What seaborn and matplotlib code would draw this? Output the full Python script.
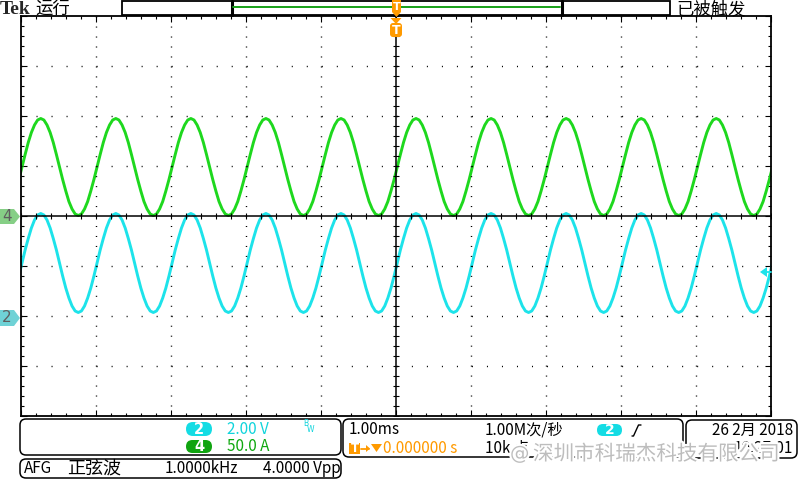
import numpy as np
import pandas as pd
import matplotlib
matplotlib.use("Agg")
import matplotlib.pyplot as plt
import matplotlib.patches as mpatches
import matplotlib.patheffects as pe
import seaborn as sns

# --- trace data (divisions), one cycle each, starting at the peak, 24 samples per 1.00 ms ---
green_cycle = [1.95, 1.92, 1.82, 1.67, 1.47, 1.23, 0.98, 0.73, 0.50, 0.29, 0.14, 0.04,
               0.01, 0.04, 0.14, 0.29, 0.50, 0.73, 0.98, 1.23, 1.47, 1.67, 1.82, 1.92]
cyan_cycle = [0.05, 0.02, -0.08, -0.24, -0.45, -0.68, -0.94, -1.20, -1.44, -1.64, -1.80, -1.90,
              -1.93, -1.90, -1.80, -1.64, -1.44, -1.20, -0.94, -0.68, -0.45, -0.24, -0.08, 0.02]
n_cycles = 12
first_peak = -5.73          # ms (= div), position of first drawn peak
samples_per_cycle = 24

ch4_ground = 0.0            # divisions
ch2_ground = -2.0
ch2_trig_level = -1.12

# --- text on screen ---
brand = "Tek"
run_state = "运行"
trig_state = "已被触发"
ch2_scale = "2.00 V"
ch4_scale = "50.0 A"
afg_items = ["AFG", "正弦波", "1.0000kHz", "4.0000 Vpp"]
timebase = "1.00ms"
sample_rate = "1.00M次/秒"
trig_pos = "0.000000 s"
rec_len = "10k 点"
date_str = "26 2月 2018"
time_str = "10:27:01"
watermark = "深圳市科瑞杰科技有限公司"

GREEN = "#1ed81e"
CYAN = "#1de3ea"
ORANGE = "#ff9a00"

sns.set_style("white")
plt.rcParams["font.family"] = ["Noto Sans CJK SC", "DejaVu Sans"]
plt.rcParams["lines.scale_dashes"] = False

fig = plt.figure(figsize=(8, 4.8), dpi=100)
fig.patch.set_facecolor("white")

# graticule axes, pixel box 20.5..771 x 16..416
ax = fig.add_axes([20.5 / 800, 1 - 416 / 480, 750.5 / 800, 400 / 480])
ax.set_xlim(-5, 5)
ax.set_ylim(-4, 4)
for s in ax.spines.values():
    s.set_color("black")
    s.set_linewidth(1.3)

# traces
t = first_peak + np.arange(n_cycles * samples_per_cycle) / samples_per_cycle
n = len(t)
df = pd.DataFrame({
    "t": np.concatenate([t, t]),
    "v": np.concatenate([np.tile(green_cycle, n_cycles) + ch4_ground,
                         np.tile(cyan_cycle, n_cycles)]),
    "ch": ["4"] * n + ["2"] * n,
})
sns.lineplot(data=df, x="t", y="v", hue="ch", palette={"4": GREEN, "2": CYAN},
             estimator=None, sort=False, legend=False, linewidth=2.1, ax=ax)
ax.set_xlabel("")
ax.set_ylabel("")

# dotted graticule
for xv in range(-4, 5):
    if xv != 0:
        ax.axvline(xv, color="black", lw=1.0, linestyle=(0, (0.75, 6.43)), zorder=3)
for yv in range(-3, 4):
    if yv != 0:
        ax.axhline(yv, color="black", lw=1.0, linestyle=(0, (0.75, 10.06)), zorder=3)
ax.axvline(0, color="black", lw=1.1, zorder=3)
ax.axhline(0, color="black", lw=1.1, zorder=3)
minor_x = np.arange(-5, 5.01, 0.2)
minor_y = np.arange(-4, 4.01, 0.2)
ax.plot(minor_x, np.zeros_like(minor_x), ls="none", marker="|", ms=4.5, mew=0.8, color="black", zorder=3)
ax.plot(np.zeros_like(minor_y), minor_y, ls="none", marker="_", ms=4.5, mew=0.8, color="black", zorder=3)

ax.set_xticks(np.arange(-5, 5.01, 1))
ax.set_yticks(np.arange(-4, 4.01, 1))
ax.set_xticks(minor_x, minor=True)
ax.set_yticks(minor_y, minor=True)
ax.tick_params(which="both", direction="in", top=True, right=True, bottom=True, left=True,
               labelbottom=False, labelleft=False, color="black", width=0.8)
ax.tick_params(which="major", length=4)
ax.tick_params(which="minor", length=2.2)

# overlay in pixel coordinates
ov = fig.add_axes([0, 0, 1, 1], zorder=5)
ov.set_xlim(0, 800)
ov.set_ylim(480, 0)
ov.axis("off")
ov.patch.set_alpha(0)


def rbox(x0, y0, x1, y1, r=6, fc="none", ec="black", lw=1.1, z=2):
    ov.add_patch(mpatches.FancyBboxPatch((x0, y0), x1 - x0, y1 - y0,
                                         boxstyle=f"round,pad=0,rounding_size={r}",
                                         fc=fc, ec=ec, lw=lw, zorder=z))


def txt(x, y, s, size=11, color="black", ha="left", **kw):
    ov.text(x, y, s, fontsize=size, color=color, ha=ha, va="center", **kw)


# header
ov.text(0, 9, brand, fontsize=14, fontweight="bold", family="Liberation Serif", va="center", ha="left")
txt(35, 9, run_state, size=12.5)
txt(676, 9, trig_state, size=12.5)
ov.add_patch(mpatches.Rectangle((122, 0.5), 548, 14.5, fc="white", ec="black", lw=1.3))
ov.plot([232, 232], [0.5, 15], color="black", lw=2.2)
ov.plot([562, 562], [0.5, 15], color="black", lw=2.2)
ov.plot([233, 560], [7, 7], color="#16a016", lw=1.4)

# trigger position markers
ov.add_patch(mpatches.Polygon([(392, 0), (401, 0), (401, 12), (396.5, 17), (392, 12)],
                              closed=True, fc=ORANGE, ec="none", zorder=3))
txt(396.5, 7, "T", size=8, color="white", ha="center", fontweight="bold", family="DejaVu Sans")
ov.add_patch(mpatches.Polygon([(390.5, 18), (401.5, 18), (396, 24)], closed=True, fc=ORANGE, ec="none"))
rbox(390, 23, 402, 37, r=3, fc=ORANGE, ec="none", z=3)
txt(396, 30, "T", size=9, color="white", ha="center", fontweight="bold", family="DejaVu Sans")

# channel ground markers on the left
ov.add_patch(mpatches.Polygon([(0, 209), (14, 209), (20, 216.5), (14, 224), (0, 224)],
                              closed=True, fc="#86cf86", ec="none"))
txt(7, 216.5, "4", size=11, color="#5f5f5f", ha="center", family="DejaVu Sans")
ov.add_patch(mpatches.Polygon([(0, 310), (14, 310), (20, 318), (14, 326), (0, 326)],
                              closed=True, fc="#6fd2d6", ec="none"))
txt(7, 318, "2", size=11, color="#5f5f5f", ha="center", family="DejaVu Sans")

# trigger level arrow on the right
lvl_y = 216 - ch2_trig_level * 50
ov.add_patch(mpatches.Polygon([(760, lvl_y), (767, lvl_y - 5), (767, lvl_y + 5)],
                              closed=True, fc=CYAN, ec="none"))
ov.plot([764, 771], [lvl_y, lvl_y], color=CYAN, lw=1.3)

# bottom status boxes
rbox(20, 419, 341, 455)
rbox(20, 459, 341, 478)
rbox(343, 419, 683, 457)
rbox(686, 420, 797, 458)

rbox(186, 422, 212, 436, r=7, fc="#14dce4", ec="none", z=3)
txt(199, 429, "2", size=10.5, color="white", ha="center", fontweight="bold", family="DejaVu Sans")
txt(227, 429, ch2_scale, color="#10d4dc")
txt(303, 424, "B", size=5.5, color="#10d4dc", family="DejaVu Sans")
txt(307, 430, "W", size=5.5, color="#10d4dc", family="DejaVu Sans")
rbox(186, 440, 212, 453, r=6.5, fc="#10a410", ec="none", z=3)
txt(199, 446.5, "4", size=10.5, color="white", ha="center", fontweight="bold", family="DejaVu Sans")
txt(227, 446.5, ch4_scale, color="#10a810")

for xv, s, sz in zip([24, 67, 165, 263], afg_items, [11, 13, 11, 11]):
    txt(xv, 468.5, s, size=sz)

txt(349, 430, timebase)
txt(485, 430, sample_rate)
rbox(597, 424, 622, 436, r=6, fc="#14dce4", ec="none", z=3)
txt(609.5, 430, "2", size=10, color="white", ha="center", fontweight="bold", family="DejaVu Sans")
ov.plot([632, 633.5, 638.5, 641], [436, 436, 425, 425], color="black", lw=1.0)

ov.add_patch(mpatches.Rectangle((349, 443), 11, 11, fc=ORANGE, ec="none"))
txt(354.5, 448.5, "T", size=8.5, color="white", ha="center", fontweight="bold", family="DejaVu Sans")
ov.plot([361, 369], [448.5, 448.5], color=ORANGE, lw=1.3)
ov.add_patch(mpatches.Polygon([(366, 445), (370, 448.5), (366, 452)], closed=True, fc=ORANGE, ec="none"))
ov.add_patch(mpatches.Polygon([(371, 444), (382, 444), (376.5, 452)], closed=True, fc=ORANGE, ec="none"))
txt(383, 448.5, trig_pos, color=ORANGE)
txt(485, 448.5, rec_len)

txt(793, 430, date_str, ha="right")
txt(793, 448.5, time_str, ha="right")

# watermark
halo = [pe.withStroke(linewidth=3, foreground="white")]
ov.text(510, 454, "@", fontsize=14, color="#bdbdbd", ha="left", va="center", zorder=10,
        family="DejaVu Sans", path_effects=halo)
ov.text(533, 454, watermark, fontsize=14.8, color="#bdbdbd", ha="left", va="center", zorder=10,
        path_effects=halo)

fig.savefig("out.png", dpi=100)
